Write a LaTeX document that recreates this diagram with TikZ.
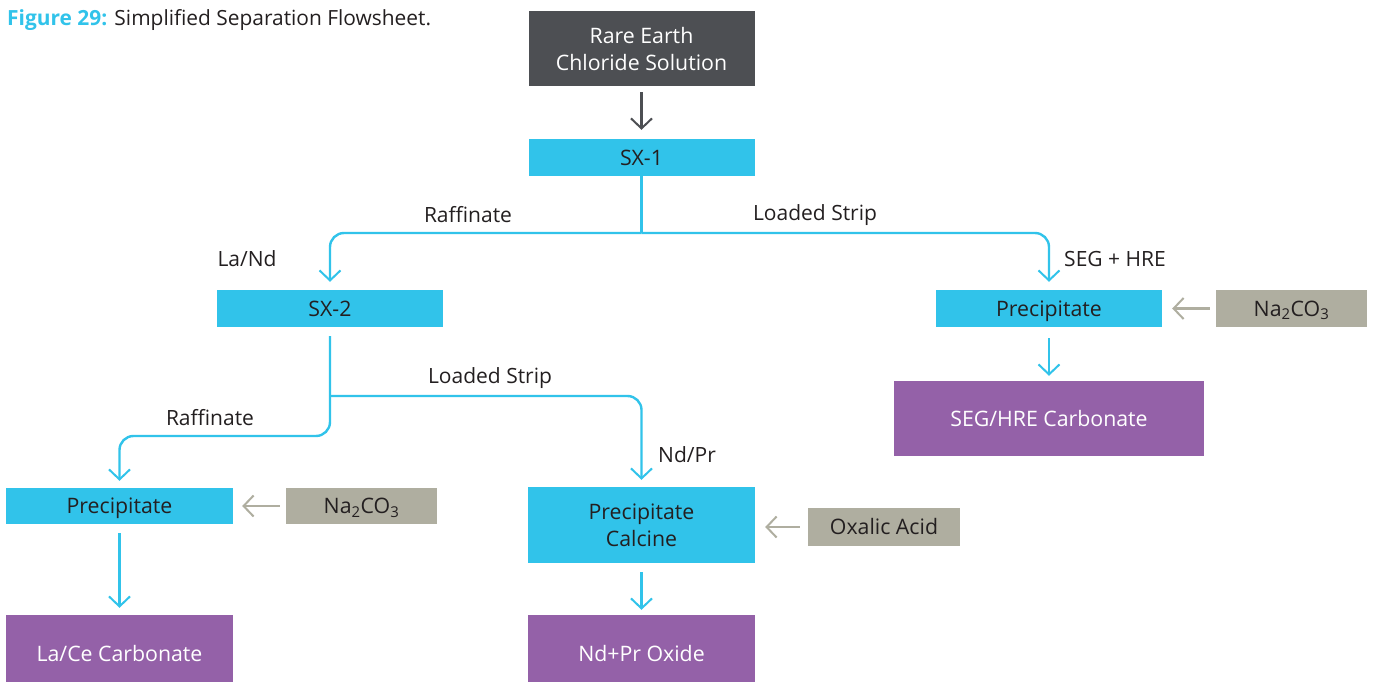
\documentclass[tikz,border=0pt]{standalone}
\usepackage{fontspec}
\setmainfont{Open Sans}
\usetikzlibrary{arrows.meta,calc}
\definecolor{cy}{HTML}{31C3EA}
\definecolor{dk}{HTML}{4D4F53}
\definecolor{gb}{HTML}{AFAEA0}
\definecolor{pu}{HTML}{9461A8}
\definecolor{tx}{HTML}{231F20}
\tikzset{
  box/.style={inner sep=0pt, align=center, font=\fontsize{21.3}{27}\selectfont},
  one/.style={text height=15.2pt, text depth=0pt},
  cbox/.style={box, fill=cy, text=tx},
  dbox/.style={box, fill=dk, text=white},
  pbox/.style={box, fill=pu, text=white},
  gbox/.style={box, fill=gb, text=tx},
  lbl/.style={inner sep=0pt, text=tx, font=\fontsize{21}{24}\selectfont},
  tip/.style={-{Straight Barb[length=10pt,width=21pt,line width=2pt]}},
  cline/.style={draw=cy, line width=2.4pt, rounded corners=14pt},
  carr/.style={cline, tip},
  darr/.style={draw=dk, line width=2.4pt, tip},
  garr/.style={draw=gb, line width=2.4pt, tip},
}
\begin{document}
\begin{tikzpicture}[x=1pt,y=-1pt]
\useasboundingbox (0,0) rectangle (1373,682);
\node[anchor=west, inner sep=0pt, font=\fontsize{20.9}{22}\selectfont] (title) at (7,20)
  {\textcolor{cy}{\bfseries Figure 29:} \textcolor{tx}{Simplified Separation Flowsheet.}};
% boxes
\node[dbox, minimum width=226pt, minimum height=75pt] (rare) at (641.5,49) {Rare Earth\\Chloride Solution};
\node[cbox, one, minimum width=226pt, minimum height=37pt] (sx1) at (641.5,157.5) {SX-1};
\node[cbox, one, minimum width=226pt, minimum height=37pt] (sx2) at (330,308.5) {SX-2};
\node[cbox, one, minimum width=226pt, minimum height=37pt] (precR) at (1049,308.5) {Precipitate};
\node[gbox, one, minimum width=151pt, minimum height=37pt] (naR) at (1291.5,308.5) {Na\textsubscript{2}CO\textsubscript{3}};
\node[pbox, one, minimum width=310pt, minimum height=75pt] (seg) at (1049,418.5) {SEG/HRE Carbonate};
\node[cbox, one, minimum width=227pt, minimum height=36pt] (precL) at (119.5,506) {Precipitate};
\node[gbox, one, minimum width=151pt, minimum height=36pt] (naL) at (361.5,506) {Na\textsubscript{2}CO\textsubscript{3}};
\node[pbox, one, minimum width=227pt, minimum height=78pt] (lace) at (119.5,654) {La/Ce Carbonate};
\node[cbox, minimum width=227pt, minimum height=76pt] (pcalc) at (641.5,525) {Precipitate\\Calcine};
\node[gbox, one, minimum width=152pt, minimum height=38pt] (oxa) at (884,527) {Oxalic Acid};
\node[pbox, one, minimum width=227pt, minimum height=78pt] (oxide) at (641.5,654) {Nd+Pr Oxide};
% labels
\node[lbl] (l1) at (468,215) {Raffinate};
\node[lbl] (l2) at (815,215) {Loaded Strip};
\node[lbl] (l3) at (247,259) {La/Nd};
\node[lbl] (l4) at (1115,259) {SEG + HRE};
\node[lbl] (l5) at (490,378) {Loaded Strip};
\node[lbl] (l6) at (210,418) {Raffinate};
\node[lbl] (l7) at (687,455) {Nd/Pr};
% junctions
\coordinate (j1) at (641.5,233);
\coordinate (j2) at (330,396);
\coordinate (j3) at (330,436);
% connectors
\draw[darr] ($(rare.south)+(0,5.5)$) -- ($(sx1.north)+(0,-9)$);
\draw[cline] (sx1.south) -- (j1);
\draw[carr] (j1) -| ($(sx2.north)+(0,-8)$);
\draw[carr] (j1) -| ($(precR.north)+(0,-8)$);
\draw[cline] ($(sx2.south)+(0,9)$) -- (j2);
\draw[carr] ($(sx2.south)+(0,9)$) -- (j3) -| ($(precL.north)+(0,-7)$);
\draw[carr] (j2) -| ($(pcalc.north)+(0,-7)$);
\draw[carr] ($(precR.south)+(0,11)$) -- ($(seg.north)+(0,-5)$);
\draw[carr] ($(precL.south)+(0,9)$) -- ($(lace.north)+(0,-7)$);
\draw[carr] ($(pcalc.south)+(0,9)$) -- ($(oxide.north)+(0,-5)$);
\draw[garr] ($(naR.west)+(-6,0)$) -- ($(precR.east)+(10,0)$);
\draw[garr] ($(naL.west)+(-6,0)$) -- ($(precL.east)+(9,0)$);
\draw[garr] ($(oxa.west)+(-8,0)$) -- ($(pcalc.east |- oxa.west)+(10,0)$);
\end{tikzpicture}
\end{document}
